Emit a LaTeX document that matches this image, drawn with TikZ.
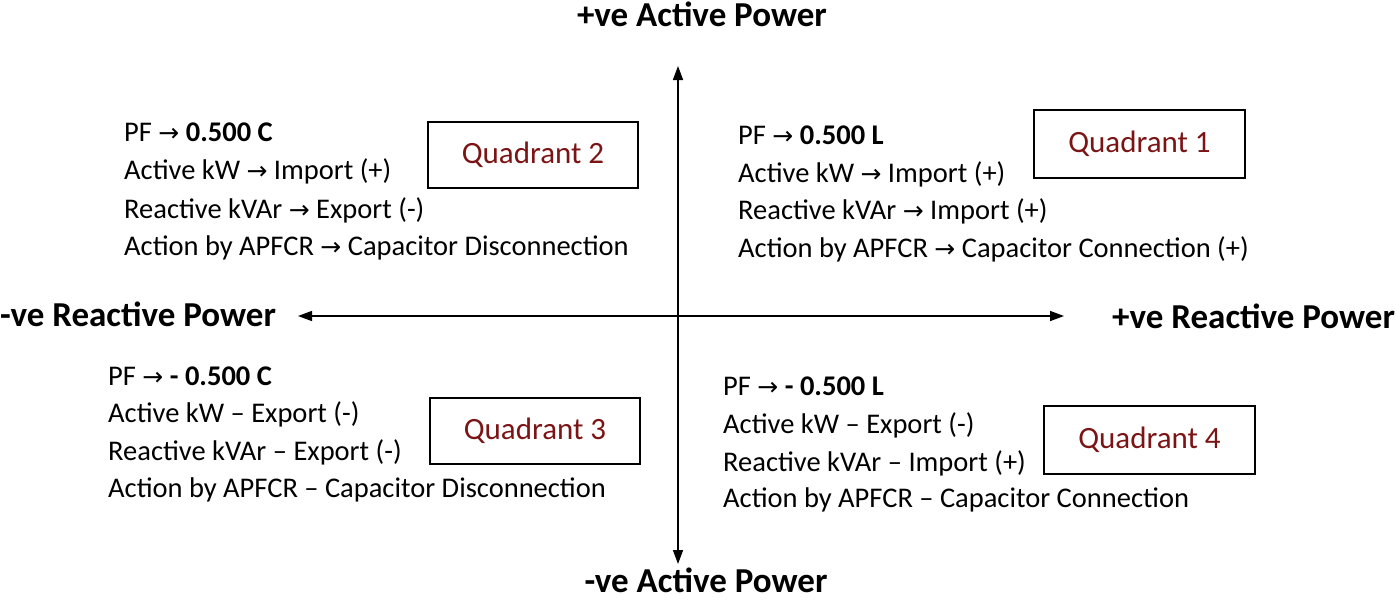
\documentclass[tikz,border=0pt]{standalone}
\usepackage{fontspec}
\setmainfont{Carlito}
\newfontfamily\arr{DejaVu Sans}
\usetikzlibrary{arrows.meta}
\definecolor{qred}{HTML}{7B1414}
\newcommand{\ra}{{\arr\fontsize{25}{25}\selectfont →}}
\begin{document}
\begin{tikzpicture}[x=1pt,y=-1pt,
  txt/.style={anchor=west,inner sep=0pt,font=\fontsize{28.5}{28.5}\selectfont},
  ttl/.style={inner sep=0pt,font=\fontsize{35}{35}\selectfont\bfseries},
  qbox/.style={draw,line width=1.5pt,minimum width=#1,font=\fontsize{31}{31}\selectfont,text=qred},
  ax/.style={line width=1.5pt,-{Triangle[length=14pt,width=10pt]}}]
\useasboundingbox (0,0) rectangle (1396,600);
\coordinate (c) at (678,316);
\coordinate (top) at (678,66);
\coordinate (bot) at (678,564);
\coordinate (lft) at (298,316);
\coordinate (rgt) at (1064,316);
\draw[ax] (c) -- (top);
\draw[ax] (c) -- (bot);
\draw[ax] (c) -- (lft);
\draw[ax] (c) -- (rgt);
\node[ttl] (t1) at (702,14) {+ve Active Power};
\node[ttl] (t2) at (706,580) {-ve Active Power};
\node[ttl,anchor=west] (t3) at (0,314) {-ve Reactive Power};
\node[ttl,anchor=west] (t4) at (1112,316) {+ve Reactive Power};
% Q2
\node[txt] (a1) at (124,132) {PF \ra\ \textbf{0.500 C}};
\node[txt] (a2) at (124,171) {Active kW \ra\ Import (+)};
\node[txt] (a3) at (124,210) {Reactive kVAr \ra\ Export (-)};
\node[txt] (a4) at (124,248) {Action by APFCR \ra\ Capacitor Disconnection};
\node[qbox=210pt,minimum height=66pt] (q2) at (533,155) {Quadrant 2};
% Q1
\node[txt] (b1) at (738,135) {PF \ra\ \textbf{0.500 L}};
\node[txt] (b2) at (738,174) {Active kW \ra\ Import (+)};
\node[txt] (b3) at (738,211) {Reactive kVAr \ra\ Import (+)};
\node[txt] (b4) at (738,249) {Action by APFCR \ra\ Capacitor Connection (+)};
\node[qbox=211pt,minimum height=68pt] (q1) at (1139.5,144) {Quadrant 1};
% Q3
\node[txt] (c1) at (108,376) {PF \ra\ \textbf{- 0.500 C}};
\node[txt] (c2) at (108,414) {Active kW -- Export (-)};
\node[txt] (c3) at (108,452) {Reactive kVAr -- Export (-)};
\node[txt] (c4) at (108,490) {Action by APFCR -- Capacitor Disconnection};
\node[qbox=210pt,minimum height=66pt] (q3) at (535,431) {Quadrant 3};
% Q4
\node[txt] (d1) at (723,386) {PF \ra\ \textbf{- 0.500 L}};
\node[txt] (d2) at (723,425) {Active kW -- Export (-)};
\node[txt] (d3) at (723,463) {Reactive kVAr -- Import (+)};
\node[txt] (d4) at (723,500) {Action by APFCR -- Capacitor Connection};
\node[qbox=211pt,minimum height=68pt] (q4) at (1149.5,440) {Quadrant 4};
\end{tikzpicture}
\end{document}
